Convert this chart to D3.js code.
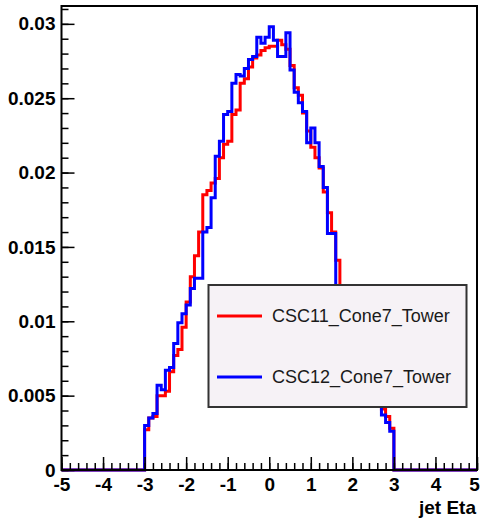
<!DOCTYPE html>
<html><head><meta charset="utf-8">
<script src="https://cdn.jsdelivr.net/npm/d3@7"></script>
<style>
html,body{margin:0;padding:0;background:#fff;}
svg{display:block;}
</style></head>
<body>
<script>
// ---- data ----
const histRange = [-5, 5];
const binStart = -3.0;
const binWidth = 0.1;
const seriesNames = ["CSC11_Cone7_Tower", "CSC12_Cone7_Tower"];
const csc11 = [
 0.0027,0.0035,0.0036,0.0050,0.0050,0.0053,0.0066,0.0077,0.0081,0.0096,
 0.0113,0.0130,0.0144,0.0160,0.0185,0.0188,0.0193,0.0196,0.0210,0.0219,
 0.0221,0.0239,0.0242,0.0260,0.0263,0.0271,0.0277,0.0279,0.0282,0.0284,
 0.0285,0.0285,0.0289,0.0286,0.0283,0.0272,0.0257,0.0252,0.0240,0.0228,
 0.0217,0.0210,0.0203,0.0187,0.0173,0.0160,0.0141,0.0118,0.0110,0.0098,
 0.0090,0.0079,0.0070,0.0062,0.0055,0.0049,0.0045,0.0041,0.0036,0.0028
];
const csc12 = [
 0.0030,0.0035,0.0038,0.0057,0.0054,0.0067,0.0069,0.0085,0.0099,0.0105,
 0.0111,0.0122,0.0129,0.0129,0.0160,0.0163,0.0183,0.0211,0.0221,0.0239,
 0.0241,0.0260,0.0266,0.0265,0.0270,0.0276,0.0278,0.0291,0.0287,0.0291,
 0.0298,0.0289,0.0278,0.0278,0.0294,0.0269,0.0254,0.0247,0.0241,0.0220,
 0.0230,0.0220,0.0204,0.0190,0.0159,0.0159,0.0120,0.0112,0.0103,0.0095,
 0.0086,0.0077,0.0068,0.0060,0.0053,0.0047,0.0044,0.0037,0.0032,0.0026
];
const xTickValues = [-5,-4,-3,-2,-1,0,1,2,3,4,5];
const xTickLabels = ["-5","-4","-3","-2","-1","0","1","2","3","4","5"];
const yTickValues = [0,0.005,0.01,0.015,0.02,0.025,0.03];
const yTickLabels = ["0","0.005","0.01","0.015","0.02","0.025","0.03"];
const xTitle = "jet Eta";
const colors = ["#ff0000", "#0000ff"];

// ---- layout ----
const W = 480, H = 519;
const L = 61.5, R = 477, T = 6, B = 470;
const svg = d3.select("body").append("svg").attr("width", W).attr("height", H);

const x = d3.scaleLinear().domain(histRange).range([L, R]);
const y = d3.scaleLinear().domain([0, 0.0312]).range([B, T]);

const font = "'Liberation Sans', Arial, Helvetica, sans-serif";

// histogram paths
function histPoints(vals) {
  const pts = [{x: histRange[0], y: 0}];
  vals.forEach((v, i) => pts.push({x: binStart + i * binWidth, y: v}));
  pts.push({x: binStart + vals.length * binWidth, y: 0});
  pts.push({x: histRange[1], y: 0});
  return pts;
}
const line = d3.line().x(d => x(d.x)).y(d => y(d.y)).curve(d3.curveStepAfter);

[csc11, csc12].forEach((vals, k) => {
  svg.append("path").datum(histPoints(vals))
    .attr("d", line).attr("fill", "none")
    .attr("stroke", colors[k]).attr("stroke-width", 3)
    .attr("stroke-linejoin", "miter");
});

// axes
const yMinor = d3.range(0, 0.0312, 0.001);
const xMinor = d3.range(-5, 5.0001, 0.2);

const gy = svg.append("g").attr("transform", `translate(${L},0)`);
gy.call(d3.axisLeft(y).tickValues(yMinor).tickSize(-7).tickFormat(""));
gy.select(".domain").remove();
const gy2 = svg.append("g").attr("transform", `translate(${L},0)`);
gy2.call(d3.axisLeft(y).tickValues(yTickValues).tickSize(-13).tickPadding(6)
  .tickFormat((d, i) => yTickLabels[i]));
gy2.select(".domain").remove();

const gx = svg.append("g").attr("transform", `translate(0,${B})`);
gx.call(d3.axisBottom(x).tickValues(xMinor).tickSize(-7).tickFormat(""));
gx.select(".domain").remove();
const gx2 = svg.append("g").attr("transform", `translate(0,${B})`);
gx2.call(d3.axisBottom(x).tickValues(xTickValues).tickSize(-13).tickPadding(8)
  .tickFormat((d, i) => xTickLabels[i]));
gx2.select(".domain").remove();
// keep the last label inside the page
gx2.selectAll(".tick text").filter((d, i, n) => i === n.length - 1).attr("dx", "-3");

svg.selectAll(".tick line").attr("stroke", "#000").attr("stroke-width", 1.5);
svg.selectAll(".tick text").attr("fill", "#000")
  .style("font-family", font).style("font-weight", "bold").style("font-size", "19px");

// frame
svg.append("rect").attr("x", L).attr("y", T).attr("width", R - L).attr("height", B - T)
  .attr("fill", "none").attr("stroke", "#000").attr("stroke-width", 2);

// x title
svg.append("text").attr("x", R - 1).attr("y", 514).attr("text-anchor", "end")
  .style("font-family", font).style("font-weight", "bold").style("font-size", "19px")
  .text(xTitle);

// legend
const lg = svg.append("g");
lg.append("rect").attr("x", 208.5).attr("y", 285).attr("width", 258).attr("height", 122)
  .attr("fill", "#f6f2f6").attr("stroke", "#333").attr("stroke-width", 2);
const legY = [316, 377];
seriesNames.forEach((n, k) => {
  lg.append("line").attr("x1", 217).attr("x2", 262).attr("y1", legY[k]).attr("y2", legY[k])
    .attr("stroke", colors[k]).attr("stroke-width", 3);
  lg.append("text").attr("x", 272).attr("y", legY[k]).attr("dy", "0.35em")
    .style("font-family", font).style("font-size", "18px").attr("fill", "#1a1a1a")
    .text(n);
});
</script>
</body></html>
